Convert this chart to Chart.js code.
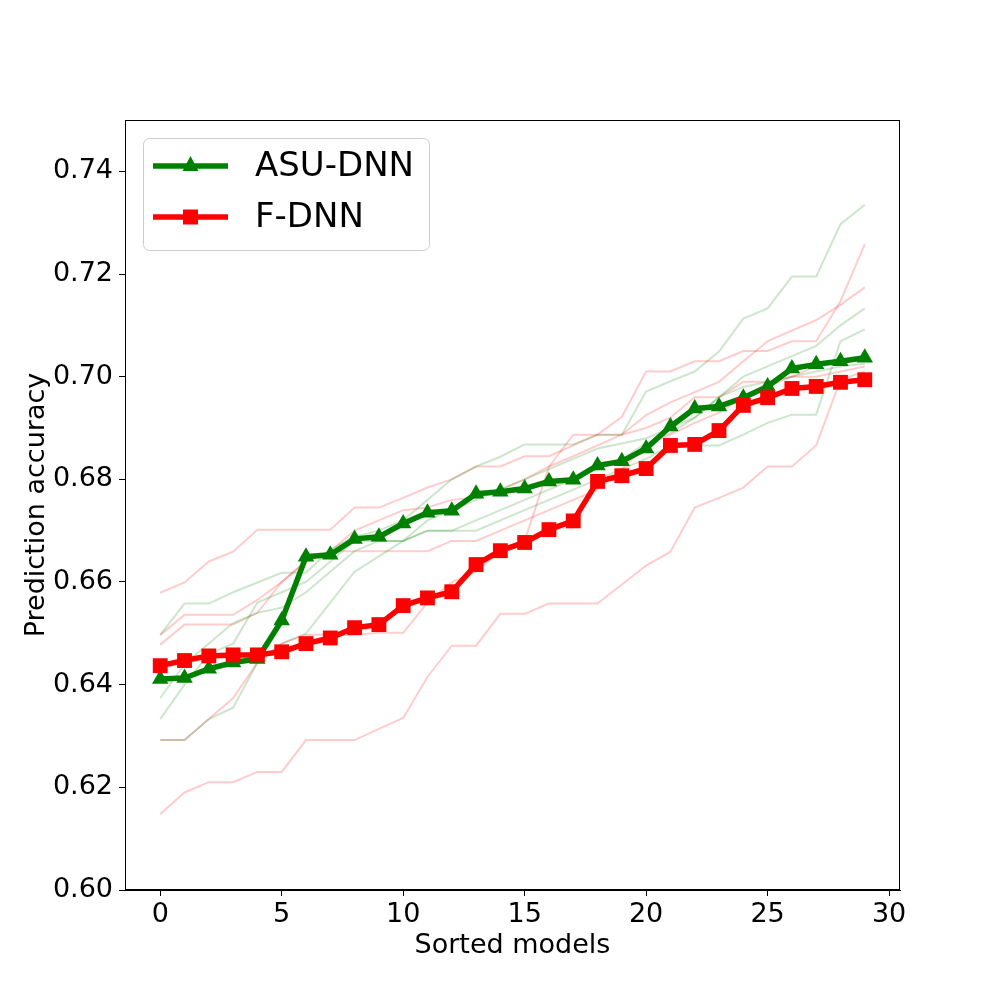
<!DOCTYPE html>
<html>
<head>
<meta charset="utf-8">
<script src="https://cdn.jsdelivr.net/npm/chart.js@4.4.1/dist/chart.umd.min.js"></script>
<style>
  html, body { margin: 0; padding: 0; background: #fff; }
  #wrap { width: 1000px; height: 1000px; }
</style>
</head>
<body>
<div id="wrap"><canvas id="accChart" width="1000" height="1000"></canvas></div>
<script>
// eixo x: modelos ordenados 0..29
const models = Array.from({ length: 30 }, (_, i) => i);
const xTicks = [0, 5, 10, 15, 20, 25, 30];
const yTicks = [0.60, 0.62, 0.64, 0.66, 0.68, 0.70, 0.72, 0.74];

// curvas principais
const asuDnn = [0.6411, 0.6413, 0.6431, 0.6443, 0.6450, 0.6525, 0.6649, 0.6653, 0.6684, 0.6688,
                0.6714, 0.6735, 0.6739, 0.6772, 0.6776, 0.6782, 0.6796, 0.6799, 0.6827, 0.6835,
                0.6860, 0.6903, 0.6938, 0.6942, 0.6959, 0.6981, 0.7016, 0.7024, 0.7030, 0.7037];
const fDnn = [0.6437, 0.6447, 0.6456, 0.6458, 0.6458, 0.6464, 0.6480, 0.6491, 0.6511, 0.6517,
              0.6554, 0.6569, 0.6581, 0.6634, 0.6661, 0.6677, 0.6702, 0.6719, 0.6796, 0.6807,
              0.6821, 0.6866, 0.6868, 0.6895, 0.6944, 0.6959, 0.6977, 0.6981, 0.6989, 0.6994];

// execuções individuais (linhas claras)
const asuRun1 = [0.6497, 0.6558, 0.6558, 0.6580, 0.6599, 0.6618, 0.6618, 0.6663, 0.6688, 0.6700,
                 0.6720, 0.6760, 0.6800, 0.6825, 0.6844, 0.6868, 0.6868, 0.6868, 0.6887, 0.6887,
                 0.6971, 0.6991, 0.7010, 0.7049, 0.7113, 0.7133, 0.7195, 0.7195, 0.7297, 0.7335];
const asuRun2 = [0.6374, 0.6440, 0.6480, 0.6520, 0.6540, 0.6550, 0.6580, 0.6620, 0.6660, 0.6680,
                 0.6680, 0.6700, 0.6700, 0.6720, 0.6740, 0.6760, 0.6780, 0.6800, 0.6820, 0.6840,
                 0.6870, 0.6890, 0.6920, 0.6960, 0.7000, 0.7020, 0.7040, 0.7060, 0.7100, 0.7133];
const asuRun3 = [0.6333, 0.6400, 0.6460, 0.6480, 0.6560, 0.6580, 0.6600, 0.6640, 0.6680, 0.6680,
                 0.6680, 0.6700, 0.6700, 0.6700, 0.6720, 0.6740, 0.6760, 0.6780, 0.6800, 0.6820,
                 0.6840, 0.6866, 0.6866, 0.6866, 0.6887, 0.6910, 0.6926, 0.6926, 0.7069, 0.7092];
const asuRun4 = [0.6292, 0.6292, 0.6333, 0.6355, 0.6443, 0.6480, 0.6500, 0.6560, 0.6620, 0.6650,
                 0.6680, 0.6720, 0.6740, 0.6760, 0.6780, 0.6800, 0.6820, 0.6840, 0.6860, 0.6870,
                 0.6880, 0.6900, 0.6920, 0.6960, 0.6980, 0.6990, 0.7000, 0.7010, 0.7020, 0.7025];

const fRun1 = [0.6579, 0.6599, 0.6640, 0.6659, 0.6702, 0.6702, 0.6702, 0.6702, 0.6745, 0.6745,
               0.6764, 0.6784, 0.6800, 0.6825, 0.6825, 0.6845, 0.6845, 0.6866, 0.6887, 0.6922,
               0.7010, 0.7010, 0.7030, 0.7030, 0.7050, 0.7050, 0.7069, 0.7069, 0.7147, 0.7258];
const fRun2 = [0.6497, 0.6536, 0.6536, 0.6536, 0.6565, 0.6600, 0.6640, 0.6660, 0.6700, 0.6720,
               0.6740, 0.6745, 0.6760, 0.6764, 0.6780, 0.6800, 0.6825, 0.6845, 0.6866, 0.6887,
               0.6925, 0.6950, 0.6970, 0.6990, 0.7030, 0.7069, 0.7090, 0.7110, 0.7140, 0.7174];
const fRun3 = [0.6478, 0.6517, 0.6517, 0.6517, 0.6540, 0.6600, 0.6640, 0.6660, 0.6660, 0.6660,
               0.6660, 0.6660, 0.6680, 0.6680, 0.6700, 0.6720, 0.6740, 0.6760, 0.6780, 0.6820,
               0.6866, 0.6887, 0.6910, 0.6930, 0.6960, 0.6980, 0.7000, 0.7000, 0.7010, 0.7020];
const fRun4 = [0.6292, 0.6292, 0.6333, 0.6374, 0.6443, 0.6480, 0.6497, 0.6497, 0.6497, 0.6501,
               0.6501, 0.6560, 0.6600, 0.6620, 0.6660, 0.6680, 0.6824, 0.6887, 0.6887, 0.6887,
               0.6900, 0.6920, 0.6960, 0.6960, 0.6990, 0.6990, 0.7000, 0.7020, 0.7030, 0.7040];
const fRun5 = [0.6148, 0.6190, 0.6210, 0.6210, 0.6230, 0.6230, 0.6292, 0.6292, 0.6292, 0.6314,
               0.6335, 0.6415, 0.6476, 0.6476, 0.6538, 0.6538, 0.6558, 0.6558, 0.6558, 0.6595,
               0.6632, 0.6659, 0.6745, 0.6764, 0.6784, 0.6825, 0.6825, 0.6866, 0.6994, 0.7010];

const asuRuns = [asuRun1, asuRun2, asuRun3, asuRun4];
const fRuns = [fRun1, fRun2, fRun3, fRun4, fRun5];

const GREEN = '#008000';
const RED = '#ff0000';
const FONT = "'DejaVu Sans', sans-serif";

const toPoints = arr => arr.map((v, i) => ({ x: models[i], y: v }));

function faint(arr, color) {
    return {
        data: toPoints(arr),
        borderColor: color,
        borderWidth: 2,
        pointRadius: 0,
        tension: 0,
        order: 2
    };
}

// legenda no estilo matplotlib (canto superior esquerdo)
const legendPlugin = {
    id: 'mplLegend',
    afterDraw(chart) {
        const c = chart.ctx;
        c.save();
        // moldura do gráfico
        const a = chart.chartArea;
        c.strokeStyle = '#000';
        c.lineWidth = 1;
        c.strokeRect(a.left + 0.5, a.top + 0.5, a.right - a.left - 1, a.bottom - a.top - 1);

        const bx = 143, by = 138, bw = 286, bh = 112, r = 6;
        c.beginPath();
        c.roundRect(bx + 0.5, by + 0.5, bw, bh, r);
        c.fillStyle = 'rgba(255,255,255,0.8)';
        c.fill();
        c.strokeStyle = '#cccccc';
        c.stroke();

        const items = [
            { label: 'ASU-DNN', color: GREEN, style: 'triangle', y: 166 },
            { label: 'F-DNN', color: RED, style: 'rect', y: 217 }
        ];
        items.forEach(it => {
            c.strokeStyle = it.color;
            c.lineWidth = 5.5;
            c.beginPath();
            c.moveTo(153, it.y);
            c.lineTo(228, it.y);
            c.stroke();
            c.fillStyle = it.color;
            c.beginPath();
            if (it.style === 'triangle') {
                c.moveTo(190.5, it.y - 10);
                c.lineTo(198.5, it.y + 5);
                c.lineTo(182.5, it.y + 5);
                c.closePath();
            } else {
                c.rect(183, it.y - 7.5, 15, 15);
            }
            c.fill();
            c.fillStyle = '#000';
            c.font = '34px ' + FONT;
            c.textBaseline = 'middle';
            c.textAlign = 'left';
            c.fillText(it.label, 255, it.y + 1);
        });
        c.restore();
    }
};

const datasets = [
    {
        label: 'F-DNN',
        data: toPoints(fDnn),
        borderColor: RED,
        backgroundColor: RED,
        borderWidth: 5.5,
        borderJoinStyle: 'round',
        pointStyle: 'rect',
        pointRadius: 10.5,
        pointBorderWidth: 0,
        tension: 0,
        order: 0
    },
    {
        label: 'ASU-DNN',
        data: toPoints(asuDnn),
        borderColor: GREEN,
        backgroundColor: GREEN,
        borderWidth: 5.5,
        borderJoinStyle: 'round',
        pointStyle: 'triangle',
        pointRadius: 9.5,
        pointBorderWidth: 0,
        tension: 0,
        order: 1
    }
];
asuRuns.forEach(r => datasets.push(faint(r, 'rgba(0,128,0,0.2)')));
fRuns.forEach(r => datasets.push(faint(r, 'rgba(255,0,0,0.2)')));

const ctx = document.getElementById('accChart').getContext('2d');
const accChart = new Chart(ctx, {
    type: 'line',
    data: { datasets },
    options: {
        responsive: false,
        devicePixelRatio: 1,
        animation: false,
        layout: { padding: { top: 120, right: 100, left: 0, bottom: 0 } },
        plugins: {
            legend: { display: false },
            tooltip: { enabled: false }
        },
        scales: {
            x: {
                type: 'linear',
                min: -1.45,
                max: 30.45,
                afterBuildTicks: s => { s.ticks = xTicks.map(v => ({ value: v })); },
                afterFit: s => { s.height = 110; },
                grid: { drawOnChartArea: false, drawTicks: true, tickLength: 6, color: '#000' },
                border: { display: true, color: '#000', width: 1 },
                ticks: {
                    color: '#000',
                    font: { family: FONT, size: 27 },
                    padding: 3,
                    maxRotation: 0,
                    callback: v => String(v)
                },
                title: {
                    display: true,
                    text: 'Sorted models',
                    color: '#000',
                    font: { family: FONT, size: 27 },
                    padding: { top: 0, bottom: 38 }
                }
            },
            y: {
                type: 'linear',
                min: 0.60,
                max: 0.75,
                afterBuildTicks: s => { s.ticks = yTicks.map(v => ({ value: v })); },
                afterFit: s => { s.width = 125; },
                grid: { drawOnChartArea: false, drawTicks: true, tickLength: 6, color: '#000' },
                border: { display: true, color: '#000', width: 1 },
                ticks: {
                    color: '#000',
                    font: { family: FONT, size: 27 },
                    padding: 6,
                    callback: v => v.toFixed(2)
                },
                title: {
                    display: true,
                    text: 'Prediction accuracy',
                    color: '#000',
                    font: { family: FONT, size: 27 },
                    padding: { top: 21, bottom: 0 }
                }
            }
        }
    },
    plugins: [legendPlugin]
});
</script>
</body>
</html>
